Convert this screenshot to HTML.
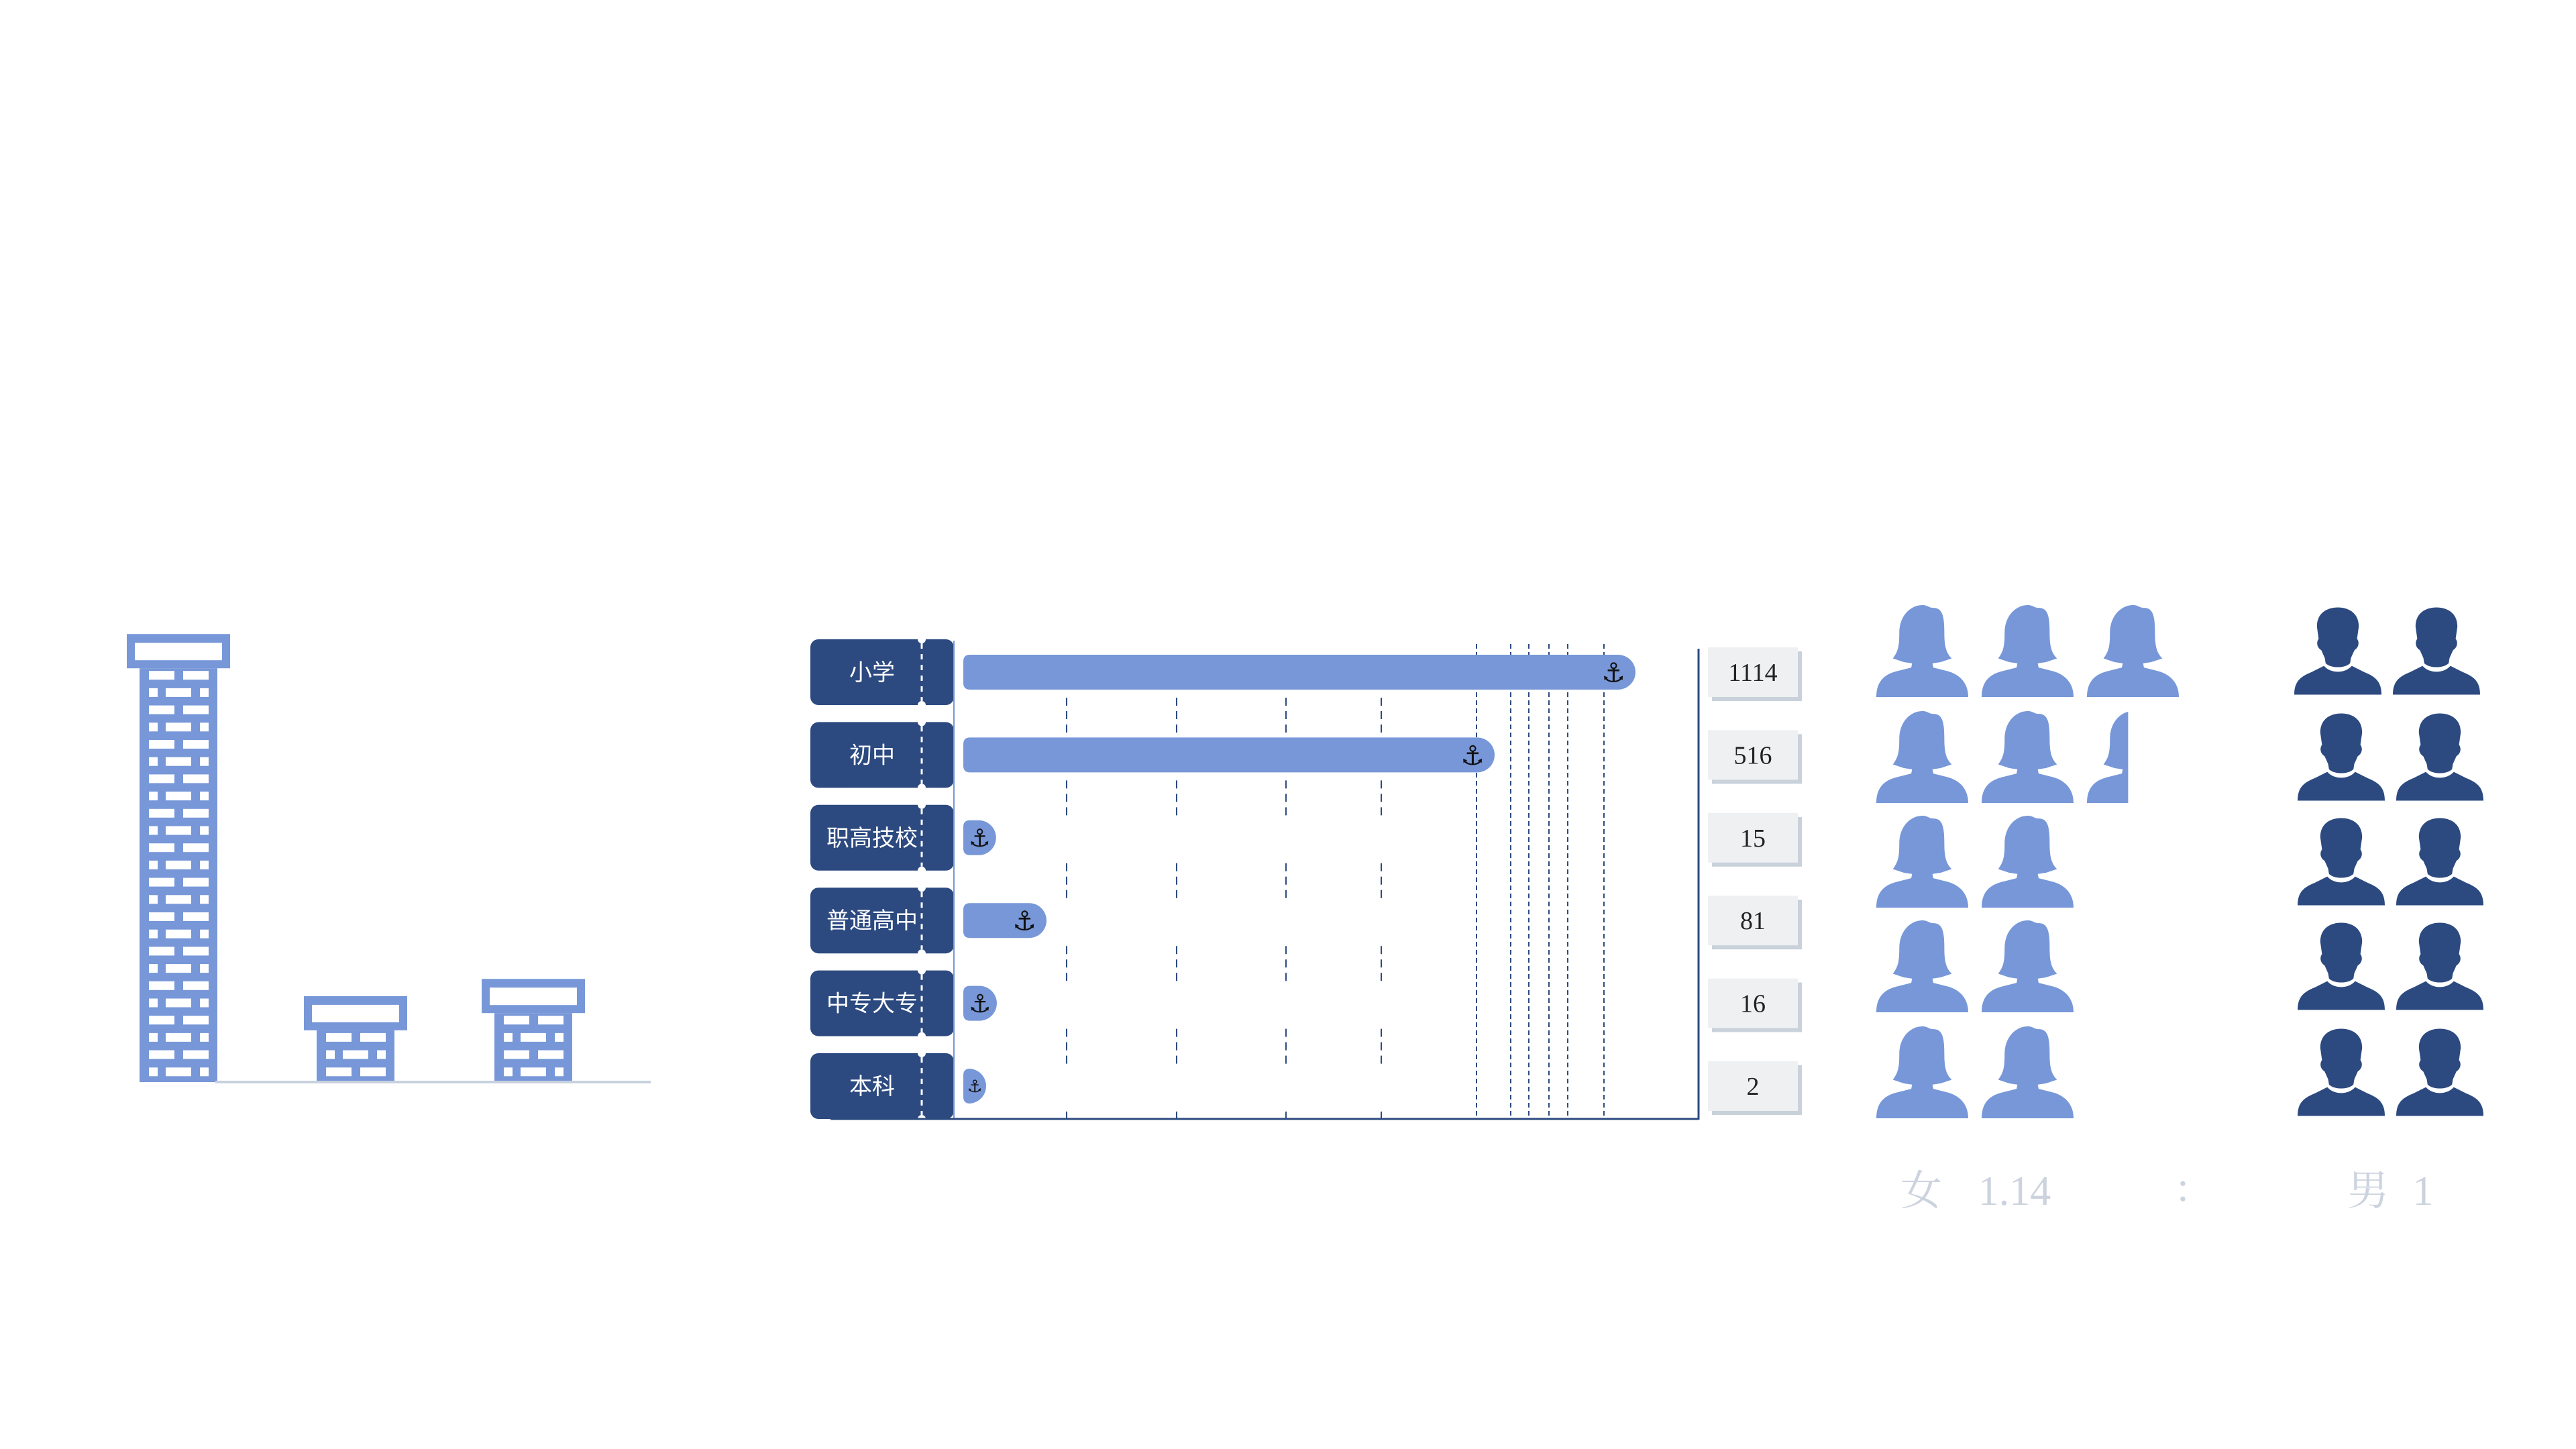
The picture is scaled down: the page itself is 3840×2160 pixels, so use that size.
<!DOCTYPE html>
<html><head><meta charset="utf-8"><style>
html,body{margin:0;padding:0;background:#fff;}
svg{display:block;}
</style></head><body>
<svg id="chart" xmlns="http://www.w3.org/2000/svg" width="3840" height="2160" viewBox="0 0 3840 2160">
<defs>
<symbol id="female" viewBox="0 0 100 100">
<path fill="#7797d8" d="M0,100 C0,82 10,75 22,72 L38,68 L39,63 L61,63 L62,68 L78,72 C92,76 100,86 100,100 Z"/>
<path fill="#7797d8" d="M18,58 C24,50 25,44 25,30 C25,12 37,0 50,0 C56,0 57,3 62,3 C72,3 74,12 74,30 C74,45 76,52 82,58 L70,62 L50,65 L30,62 Z"/>
</symbol>
<symbol id="male" viewBox="0 0 100 100">
<path fill="#2c4a80" d="M26,22 C26,6 38,0 50,0 C62,0 74,6 74,22 L72,36 C75,40 74,46 69,49 L65,58 L64,64 C58,70 42,70 36,64 L35,58 L31,49 C26,46 25,40 28,36 Z"/>
<path fill="#2c4a80" d="M0,100 C0,84 8,79 20,74 L34,67 C42,76 58,76 66,67 L80,74 C92,79 100,84 100,100 Z"/>
</symbol>
<clipPath id="partialClip" clipPathUnits="userSpaceOnUse"><rect id="partialRect" x="0" y="0" width="0" height="140"/></clipPath>
</defs>
<g id="buildings"></g>
<line x1="321" y1="1613" x2="970" y2="1613" stroke="#c8d2de" stroke-width="4"/>
<g id="grid"></g>
<g id="rows"></g>
<line x1="1422" y1="955" x2="1422" y2="1669" stroke="#7797d8" stroke-width="2"/>
<line x1="1238" y1="1668" x2="2532" y2="1668" stroke="#2c4a80" stroke-width="3"/>
<line x1="2532" y1="967" x2="2532" y2="1669" stroke="#2c4a80" stroke-width="3"/>
<g id="people"></g>
<g font-family="'Liberation Serif','Noto Serif CJK SC',serif" font-size="62" fill="#ccd3de">
<text x="2864" y="1796" text-anchor="middle">女</text>
<text id="femaleRatio" x="3003" y="1796" text-anchor="middle">1.14</text>
<text x="3254" y="1790" text-anchor="middle">:</text>
<text x="3530" y="1796" text-anchor="middle">男</text>
<text id="maleRatio" x="3612" y="1796" text-anchor="middle">1</text>
</g>
</svg>
<script>
const categories = ['小学','初中','职高技校','普通高中','中专大专','本科'];
const values = [1114, 516, 15, 81, 16, 2];
const femaleRatio = 1.14;
const maleRatio = 1;
const buildingRows = [24, 3, 4];

const NS = 'http://www.w3.org/2000/svg';
function mk(tag, attrs, parent){const e=document.createElementNS(NS,tag);for(const k in attrs)e.setAttribute(k,attrs[k]);parent.appendChild(e);return e;}

// axis functions
const X0 = 1436;
const domain = [0, 2, 81, 516, 1114];
const range = [22, 34, 124, 792, 1002];
function xLen(v){
  for(let i=1;i<domain.length;i++){
    if(v<=domain[i]||i===domain.length-1){
      const t=(v-domain[i-1])/(domain[i]-domain[i-1]);
      return range[i-1]+t*(range[i]-range[i-1]);
    }
  }
}
function yRow(i){return 1002 + i*123.4;}

// grid
const grid = document.getElementById('grid');
[2201,2252,2279,2309,2337,2391].forEach(x=>{
  const l=mk('line',{x1:x,y1:960,x2:x,y2:1668,stroke:'#2c4a80','stroke-width':2,'stroke-dasharray':'7 5'},grid);
  
  
});
[1590,1754,1917,2059].forEach(x=>{
  for(let i=0;i<categories.length;i++){
    const y1=yRow(i)+38, y2=i===categories.length-1?1668:yRow(i)+92;
    const l=mk('line',{x1:x,y1:y1,x2:x,y2:y2,stroke:'#2c4a80','stroke-width':2,'stroke-dasharray':'12 8'},grid);
    
    
  }
});

// rows
const rows = document.getElementById('rows');
categories.forEach((c,i)=>{
  const cy=yRow(i);
  const g=mk('g',{},rows);
  
  
  const box=mk('rect',{x:1208,y:cy-49,width:214,height:98,rx:12,fill:'#2c4a80'},g);
  
  
  mk('line',{x1:1374,y1:cy-43,x2:1374,y2:cy+43,stroke:'#fff','stroke-width':3,'stroke-dasharray':'8 8'},g);
  mk('circle',{cx:1374,cy:cy-49,r:6,fill:'#fff'},g);
  mk('circle',{cx:1374,cy:cy+49,r:6,fill:'#fff'},g);
  const t=mk('text',{x:1300,y:cy+12,'text-anchor':'middle','font-size':34,fill:'#fff','font-family':"'Liberation Sans','Noto Sans CJK SC',sans-serif"},g);
  t.textContent=c;
  
  
  const L=xLen(values[i]); const h=52, r=26, x1=X0+L;
  const bar=mk('path',{d:`M${X0+10},${cy-h/2} L${x1-r},${cy-h/2} A${r},${r} 0 0 1 ${x1-r},${cy+h/2} L${X0+10},${cy+h/2} Q${X0},${cy+h/2} ${X0},${cy+h/2-10} L${X0},${cy-h/2+10} Q${X0},${cy-h/2} ${X0+10},${cy-h/2} Z`,fill:'#7797d8'},g);
  
  
  const fs=Math.min(40,L*0.75);
  const ax=Math.max(X0+L/2, x1-33);
  const a=mk('text',{x:ax,y:cy+fs*0.36,'text-anchor':'middle','font-size':fs,fill:'#111','font-family':"'DejaVu Sans',sans-serif"},g);
  a.textContent='⚓';
  
  
  mk('rect',{x:2552,y:cy-31,width:134,height:74,fill:'#c9d1da'},g);
  const vb=mk('rect',{x:2546,y:cy-37,width:134,height:74,fill:'#eef0f2'},g);
  
  
  const vt=mk('text',{x:2613,y:cy+13,'text-anchor':'middle','font-size':38,fill:'#222','font-family':"'Liberation Serif',serif"},g);
  vt.textContent=values[i];
  
  
});

// buildings
const bg=document.getElementById('buildings');
const bDefs=[{capX:189,capW:154,bodyX:208},{capX:453,capW:154,bodyX:472},{capX:718,capW:154,bodyX:737}];
buildingRows.forEach((n,k)=>{
  const d=bDefs[k]; const bottom=1613; const top=bottom-n*25.7;
  const g=mk('g',{},bg);
  
  
  mk('rect',{x:d.bodyX,y:top,width:116,height:n*25.7,fill:'#7797d8'},g);
  for(let r=0;r<n;r++){
    const y=top+4+r*25.7;
    const bricks = r%2===0 ? [[14,38],[65,38]] : [[14,13],[39,38],[90,13]];
    bricks.forEach(b=>mk('rect',{x:d.bodyX+b[0],y:y,width:b[1],height:13,fill:'#fff'},g));
  }
  mk('rect',{x:d.capX,y:top-51,width:d.capW,height:51,fill:'#7797d8'},g);
  mk('rect',{x:d.capX+12,y:top-38,width:d.capW-24,height:26,fill:'#fff'},g);
});

// people
const pg=document.getElementById('people');
const femaleCount=femaleRatio*10, maleCount=maleRatio*10;
const fCols=[2797,2954,3111];
const rowY=[902,1060,1216,1372,1530];
let extra=femaleCount-10;
rowY.forEach((y,r)=>{
  for(let c=0;c<3;c++){
    let frac=1;
    if(c===2){ if(extra<=0.001) break; frac=Math.min(1,extra); extra-=frac; }
    const wrap=mk('g',{},pg);
    const u=mk('use',{href:'#female',x:fCols[c],y:y,width:137,height:137},wrap);
    
    
    if(frac<1){
      const cp=document.getElementById('partialRect');
      cp.setAttribute('x',fCols[c]); cp.setAttribute('y',y); cp.setAttribute('width',137*Math.min(1,frac*1.12));
      wrap.setAttribute('clip-path','url(#partialClip)');
    }
  }
});
let mRem=maleCount;
rowY.forEach((y,r)=>{
  for(let c=0;c<2;c++){
    if(mRem<=0)break; mRem-=1;
    const u=mk('use',{href:'#male',x:(r===0?3420:3425)+c*147,y:y,width:130,height:137},pg);
    
    
  }
});
document.getElementById('femaleRatio').textContent=femaleRatio;
document.getElementById('maleRatio').textContent=maleRatio;
</script>
</body></html>
